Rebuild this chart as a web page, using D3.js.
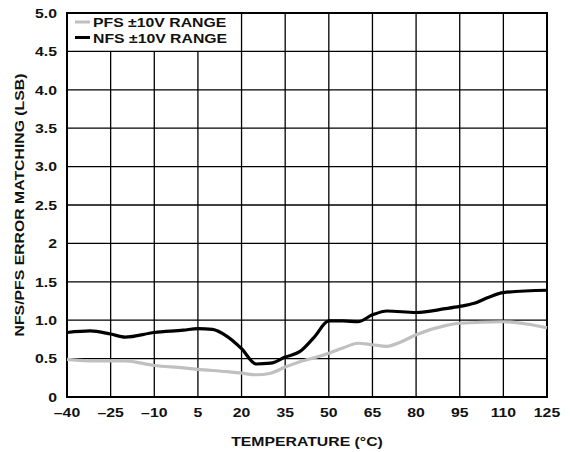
<!DOCTYPE html>
<html>
<head>
<meta charset="utf-8">
<script src="https://cdn.jsdelivr.net/npm/d3@7"></script>
<style>
  body { margin: 0; background: #fff; }
  text { font-family: "Liberation Sans", Arial, sans-serif; font-weight: bold; fill: #111; }
</style>
</head>
<body>
<svg width="570" height="452"></svg>
<script>
// tick values + labels (labels copied as printed on the chart)
const xTicks = [-40, -25, -10, 5, 20, 35, 50, 65, 80, 95, 110, 125];
const yTicks = [0, 0.5, 1, 1.5, 2, 2.5, 3, 3.5, 4, 4.5, 5];
const yTickLabels = ["0", "0.5", "1.0", "1.5", "2", "2.5", "3.0", "3.5", "4.0", "4.5", "5.0"];

// PFS ±10V range (grey)
const pfsTemp = [-40, -30, -20, -10, 0, 5, 15, 20, 25, 30, 35, 40, 45, 50, 55, 60, 65, 70, 75, 80, 90, 95, 110, 118, 125];
const pfsErr  = [0.49, 0.47, 0.47, 0.41, 0.38, 0.36, 0.33, 0.31, 0.29, 0.31, 0.39, 0.46, 0.51, 0.57, 0.64, 0.70, 0.68, 0.66, 0.72, 0.81, 0.93, 0.96, 0.98, 0.95, 0.90];

// NFS ±10V range (black)
const nfsTemp = [-40, -32, -25, -20, -10, 0, 5, 10, 15, 20, 25, 30, 35, 40, 45, 50, 55, 60, 65, 70, 80, 90, 95, 100, 105, 110, 125];
const nfsErr  = [0.84, 0.86, 0.82, 0.78, 0.84, 0.87, 0.89, 0.88, 0.79, 0.63, 0.43, 0.44, 0.52, 0.59, 0.78, 0.99, 0.99, 0.98, 1.07, 1.12, 1.10, 1.15, 1.18, 1.22, 1.30, 1.36, 1.39];

const seriesNames = ["PFS \u00B110V RANGE", "NFS \u00B110V RANGE"];
const seriesColors = ["#c0c0c0", "#000"];

function run() {
  const svg = d3.select("svg");
  const left = 67, right = 547, top = 13, bottom = 397;
  const sx = 1.17; // the original lettering is a bit wider than Arial

  const x = d3.scaleLinear().domain([-40, 125]).range([left, right]);
  const y = d3.scaleLinear().domain([0, 5]).range([bottom, top]);

  // text helper: stretched horizontally around its anchor
  function label(g, tx, ty, str, anchor, rot) {
    return g.append("text")
      .attr("transform", `translate(${tx},${ty})` + (rot ? ` rotate(${rot})` : "") + ` scale(${sx},1)`)
      .attr("dy", "0.36em")
      .attr("text-anchor", anchor)
      .attr("font-size", 13.5)
      .text(str);
  }

  const grid = svg.append("g").attr("stroke", "#000").attr("stroke-width", 1.3);

  // horizontal gridlines
  grid.selectAll("line.h").data(yTicks.slice(1, -1)).join("line")
    .attr("x1", left).attr("x2", right)
    .attr("y1", d => y(d)).attr("y2", d => y(d));

  // vertical gridlines (legend box hides the top band for the first columns)
  grid.selectAll("line.v").data(xTicks.slice(1, -1)).join("line")
    .attr("x1", d => x(d)).attr("x2", d => x(d))
    .attr("y1", d => d < 20 ? y(4.5) : top)
    .attr("y2", bottom);

  // frame
  svg.append("rect")
    .attr("x", left).attr("y", top)
    .attr("width", right - left).attr("height", bottom - top)
    .attr("fill", "none").attr("stroke", "#000").attr("stroke-width", 2);

  // curves
  const mk = d3.line().x(d => x(d[0])).y(d => y(d[1])).curve(d3.curveMonotoneX);
  const series = [d3.zip(pfsTemp, pfsErr), d3.zip(nfsTemp, nfsErr)];
  svg.selectAll("path.s").data(series).join("path")
    .attr("fill", "none")
    .attr("stroke", (d, i) => seriesColors[i])
    .attr("stroke-width", 3.2)
    .attr("stroke-linejoin", "round")
    .attr("d", mk);

  // legend
  const lg = svg.append("g");
  seriesNames.forEach((name, i) => {
    const ly = 22.5 + i * 15.5;
    lg.append("line")
      .attr("x1", 75).attr("x2", 90).attr("y1", ly - 0.5).attr("y2", ly - 0.5)
      .attr("stroke", seriesColors[i]).attr("stroke-width", 3);
    label(lg, 93, ly, name, "start");
  });

  // x tick labels
  const gx = svg.append("g");
  xTicks.forEach(d => label(gx, x(d), bottom + 15.5, d < 0 ? "\u2013" + Math.abs(d) : String(d), "middle"));

  // y tick labels
  const gy = svg.append("g");
  yTicks.forEach((d, i) => label(gy, left - 10, y(d), yTickLabels[i], "end"));

  // axis titles
  label(svg, (left + right) / 2, 441, "TEMPERATURE (\u00B0C)", "middle");
  label(svg, 19, (top + bottom) / 2, "NFS/PFS ERROR MATCHING (LSB)", "middle", -90);
}

run();
</script>
</body>
</html>
